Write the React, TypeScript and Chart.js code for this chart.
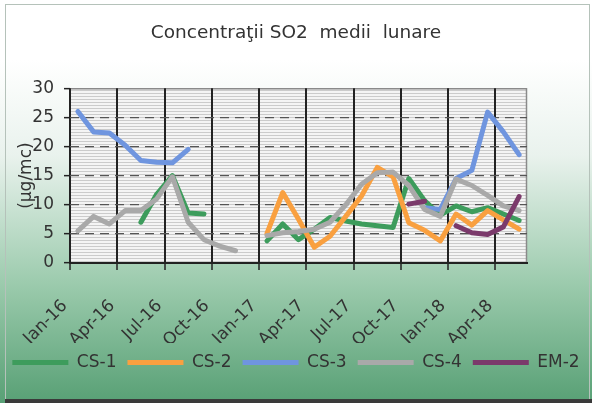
import React, { useEffect, useRef } from 'react';
import { Chart, registerables } from 'chart.js';

Chart.register(...registerables);

const FONT = "'DejaVu Sans', 'Liberation Sans', sans-serif";

const months = [
  'Jan-16', 'Feb-16', 'Mar-16', 'Apr-16', 'May-16', 'Jun-16', 'Jul-16', 'Aug-16', 'Sep-16', 'Oct-16', 'Nov-16', 'Dec-16',
  'Jan-17', 'Feb-17', 'Mar-17', 'Apr-17', 'May-17', 'Jun-17', 'Jul-17', 'Aug-17', 'Sep-17', 'Oct-17', 'Nov-17', 'Dec-17',
  'Jan-18', 'Feb-18', 'Mar-18', 'Apr-18', 'May-18',
];

const seriesNames = ['CS-1', 'CS-2', 'CS-3', 'CS-4', 'EM-2'];
const seriesColors = ['#3d9c5c', '#f9a040', '#6f95df', '#a9a9a9', '#7b3a6b'];

const cs1 = [null, null, null, null, 7, 11.8, 15, 8.6, 8.4, null, null, null,
  3.8, 6.7, 4, 5.8, 7.8, 7.2, 6.7, 6.4, 6.1, 14.5, 10.7, 8.2, 9.8, 8.8, 9.5, 8.4, 7.3];
const cs2 = [null, null, null, null, null, null, null, null, null, null, null, null,
  5.1, 12.1, 7.5, 2.7, 4.6, 8, 11.5, 16.4, 14.8, 6.9, 5.6, 3.8, 8.4, 6.5, 9, 7.4, 5.8];
const cs3 = [26, 22.5, 22.3, 20.2, 17.6, 17.3, 17.2, 19.5, null, null, null, null,
  null, null, null, null, null, null, null, null, null, null, 9.5, 9.2, 14.5, 15.9, 25.9, 22.5, 18.6];
const cs4 = [5.5, 8, 6.7, 9, 9, 11, 14.8, 7, 4, 2.9, 2.1, null,
  4.7, 5.2, 5.4, 5.8, 7, 10, 13.5, 15.5, 15.6, 13.3, 9.2, 8, 14.4, 13.3, 11.6, 9.8, 9];
const em2 = [null, null, null, null, null, null, null, null, null, null, null, null,
  null, null, null, null, null, null, null, null, null, 10.1, 10.6, null, 6.4, 5.2, 4.9, 6.2, 11.4];

const seriesData = [cs1, cs2, cs3, cs4, em2];

const yTicksStep = 5;
const yMin = 0;
const yMax = 30;

const bgPlugin = {
  id: 'bgPlugin',
  beforeDraw(chart: any) {
    const { ctx, width, height, chartArea } = chart;
    ctx.save();
    const g = ctx.createLinearGradient(0, 60, 0, height);
    g.addColorStop(0, '#ffffff');
    g.addColorStop(0.28, '#e9f2ed');
    g.addColorStop(0.65, '#9ccbad');
    g.addColorStop(1, '#58a075');
    ctx.fillStyle = g;
    ctx.fillRect(0, 0, width, height);

    // outer frame
    ctx.strokeStyle = '#b5c2ba';
    ctx.lineWidth = 1;
    ctx.strokeRect(5.5, 4.5, width - 8, height - 6);
    ctx.fillStyle = '#3a3a3a';
    ctx.fillRect(5, height - 4, width - 5, 4);

    // plot area pattern
    const pc = document.createElement('canvas');
    pc.width = 4;
    pc.height = 3;
    const p = pc.getContext('2d')!;
    p.fillStyle = '#f4f4f4';
    p.fillRect(0, 0, 4, 3);
    p.fillStyle = '#cbcbcb';
    p.fillRect(0, 0, 4, 1);
    const pat = ctx.createPattern(pc, 'repeat');
    ctx.fillStyle = pat;
    ctx.fillRect(chartArea.left, chartArea.top, chartArea.right - chartArea.left, chartArea.bottom - chartArea.top);
    ctx.strokeStyle = '#8a8a8a';
    ctx.lineWidth = 1.5;
    ctx.beginPath();
    ctx.moveTo(chartArea.left, chartArea.top + 0.5);
    ctx.lineTo(chartArea.right - 0.5, chartArea.top + 0.5);
    ctx.lineTo(chartArea.right - 0.5, chartArea.bottom);
    ctx.stroke();
    ctx.restore();
  },
};

export default function App() {
  const ref = useRef<HTMLCanvasElement>(null);

  useEffect(() => {
    document.body.style.margin = '0';
    Chart.defaults.font.family = FONT;
    const chart = new Chart(ref.current as HTMLCanvasElement, {
      type: 'line',
      data: {
        labels: months,
        datasets: seriesNames.map((name, i) => ({
          label: name,
          data: seriesData[i],
          borderColor: seriesColors[i],
          backgroundColor: seriesColors[i],
          borderWidth: 5,
          pointRadius: 0,
          pointHoverRadius: 0,
          tension: 0,
          fill: false,
          spanGaps: false,
          borderJoinStyle: 'round',
          borderCapStyle: 'round',
          order: seriesNames.length - i,
        })),
      },
      options: {
        animation: false,
        responsive: false,
        maintainAspectRatio: false,
        layout: { padding: { left: 0, right: 0, top: 0, bottom: 22 } },
        plugins: {
          title: {
            display: true,
            text: 'Concentraţii SO2  medii  lunare',
            color: '#333',
            font: { family: FONT, size: 18.5, weight: 'normal' },
            padding: { top: 22, bottom: 44 },
          },
          legend: {
            position: 'bottom',
            labels: {
              boxWidth: 56,
              boxHeight: 5,
              padding: 11,
              color: '#333',
              font: { family: FONT, size: 17 },
              sort: (a: any, b: any) => a.datasetIndex - b.datasetIndex,
              generateLabels: (c: any) => {
                const items = (Chart.defaults.plugins.legend.labels as any).generateLabels(c);
                return items.map((it: any) => ({ ...it, fillStyle: it.strokeStyle, lineWidth: 0 }));
              },
            },
          },
          tooltip: { enabled: false },
        },
        scales: {
          x: {
            type: 'category',
            offset: true,
            grid: {
              offset: true,
              color: (c: any) => (c.index % 3 === 0 ? '#222' : 'rgba(0,0,0,0)'),
              lineWidth: 2,
              tickLength: 7,
              tickColor: (c: any) => (c.index % 3 === 0 ? '#222' : 'rgba(0,0,0,0)'),
              tickWidth: 1.5,
            },
            border: { display: true, color: '#222', width: 2 },
            ticks: {
              autoSkip: false,
              maxRotation: 45,
              minRotation: 45,
              padding: 26,
              labelOffset: -13,
              color: '#333',
              font: { family: FONT, size: 17 },
              callback: (_v: any, i: number) => (i % 3 === 0 ? months[i] : ''),
            },
            afterFit: (s: any) => { s.height = 80; },
          },
          y: {
            min: yMin,
            max: yMax,
            ticks: {
              stepSize: yTicksStep,
              padding: 10,
              color: '#333',
              font: { family: FONT, size: 17 },
            },
            grid: {
              color: (c: any) => (c.tick && c.tick.value > yMin && c.tick.value < yMax ? '#555' : 'rgba(0,0,0,0)'),
              lineWidth: 1.3,
              tickColor: '#222',
              tickLength: 6,
              tickWidth: 1.5,
            },
            border: { display: false, dash: [9, 6] },
            title: {
              display: true,
              text: '(µg/mc)',
              color: '#333',
              font: { family: FONT, size: 17 },
              padding: { top: 16, bottom: -16 },
            },
            afterFit: (s: any) => { s.width = 70; },
          },
          y2: {
            position: 'right',
            display: true,
            min: 0,
            max: 1,
            grid: { display: false, drawOnChartArea: false },
            ticks: { display: false },
            border: { display: false },
            afterFit: (s: any) => { s.width = 65; },
          },
        },
      },
      plugins: [bgPlugin],
    } as any);
    return () => chart.destroy();
  }, []);

  return (
    <div style={{ width: 592, height: 403 }}>
      <canvas ref={ref} width={592} height={403} style={{ display: 'block', width: 592, height: 403 }} />
    </div>
  );
}
